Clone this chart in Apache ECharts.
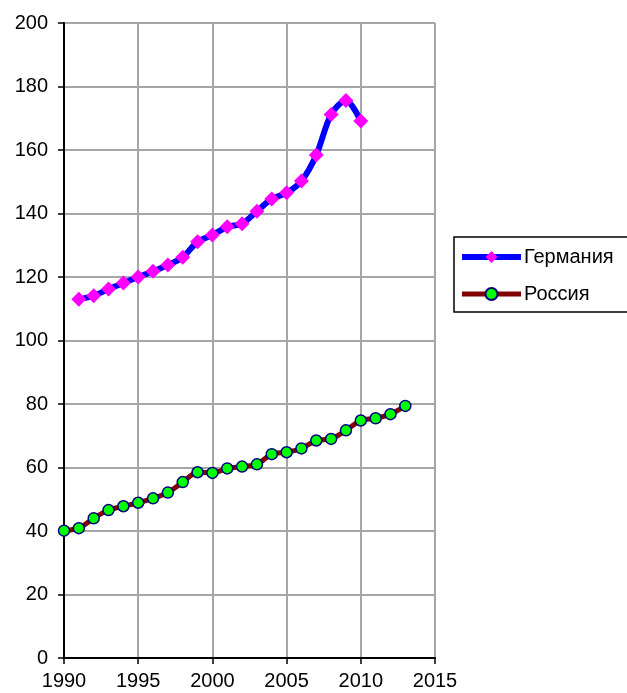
<!DOCTYPE html>
<html>
<head>
<meta charset="utf-8">
<script src="https://cdn.jsdelivr.net/npm/echarts@6/dist/echarts.min.js"></script>
<style>
  html, body { margin: 0; padding: 0; background: #fff; }
  #main { width: 627px; height: 693px; }
</style>
</head>
<body>
<div id="main"></div>
<script>
    // данные
    var yearsGermany = [1991, 1992, 1993, 1994, 1995, 1996, 1997, 1998, 1999, 2000,
        2001, 2002, 2003, 2004, 2005, 2006, 2007, 2008, 2009, 2010];
    var germany = [113.0, 114.1, 116.2, 118.1, 120.0, 121.8, 123.8, 126.2, 131.1, 133.2,
        135.8, 136.8, 140.7, 144.6, 146.5, 150.2, 158.4, 171.2, 175.6, 169.1];

    var yearsRussia = [1990, 1991, 1992, 1993, 1994, 1995, 1996, 1997, 1998, 1999, 2000,
        2001, 2002, 2003, 2004, 2005, 2006, 2007, 2008, 2009, 2010, 2011, 2012, 2013];
    var russia = [40.1, 40.9, 44.0, 46.6, 47.8, 48.9, 50.3, 52.1, 55.4, 58.5, 58.3,
        59.7, 60.3, 61.0, 64.2, 64.8, 66.0, 68.5, 69.0, 71.7, 74.8, 75.5, 76.8, 79.4];

    function pairs(xs, ys) {
        return xs.map(function (x, i) { return [x, ys[i]]; });
    }

    var myChart = echarts.init(document.getElementById('main'));

    var labelFont = { color: '#000', fontSize: 20, fontFamily: 'Liberation Sans, Arial, sans-serif' };

    var option = {
        backgroundColor: '#fff',
        animation: false,
        grid: { left: 64, right: 192, top: 23, bottom: 35 },
        legend: {
            orient: 'vertical',
            left: 454,
            top: 237,
            padding: [10, 40, 8, 5],
            itemGap: 17,
            itemWidth: 59,
            itemHeight: 15,
            borderColor: '#000',
            borderWidth: 1.5,
            textStyle: Object.assign({ padding: [0, 0, 0, -2] }, labelFont),
            data: [
                { name: 'Германия', lineStyle: { width: 6 } },
                { name: 'Россия', lineStyle: { width: 5 } }
            ]
        },
        xAxis: {
            type: 'value',
            min: 1990, max: 2015, interval: 5,
            axisLine: { onZero: false, lineStyle: { color: '#000', width: 2 } },
            axisTick: { show: true, length: 6, lineStyle: { color: '#000', width: 1.5 } },
            axisLabel: Object.assign({ margin: 13, formatter: function (v) { return String(v); } }, labelFont),
            splitLine: { show: true, lineStyle: { color: '#a6a6a6', width: 2 } }
        },
        yAxis: {
            type: 'value',
            min: 0, max: 200, interval: 20,
            axisLine: { show: true, onZero: false, lineStyle: { color: '#000', width: 2 } },
            axisTick: { show: true, length: 6, lineStyle: { color: '#000', width: 1.5 } },
            axisLabel: Object.assign({ margin: 16 }, labelFont),
            splitLine: { show: true, lineStyle: { color: '#a6a6a6', width: 2 } }
        },
        series: [
            {
                name: 'Германия',
                type: 'line',
                smooth: 0.3,
                data: pairs(yearsGermany, germany),
                lineStyle: { color: '#0000ff', width: 6 },
                symbol: 'diamond',
                symbolSize: 15,
                itemStyle: { color: '#ff00ff', borderWidth: 0 }
            },
            {
                name: 'Россия',
                type: 'line',
                smooth: 0.3,
                data: pairs(yearsRussia, russia),
                lineStyle: { color: '#800000', width: 5 },
                symbol: 'circle',
                symbolSize: 11,
                itemStyle: { color: '#00ff00', borderColor: '#000080', borderWidth: 1.5 }
            }
        ]
    };

    myChart.setOption(option);
</script>
</body>
</html>
